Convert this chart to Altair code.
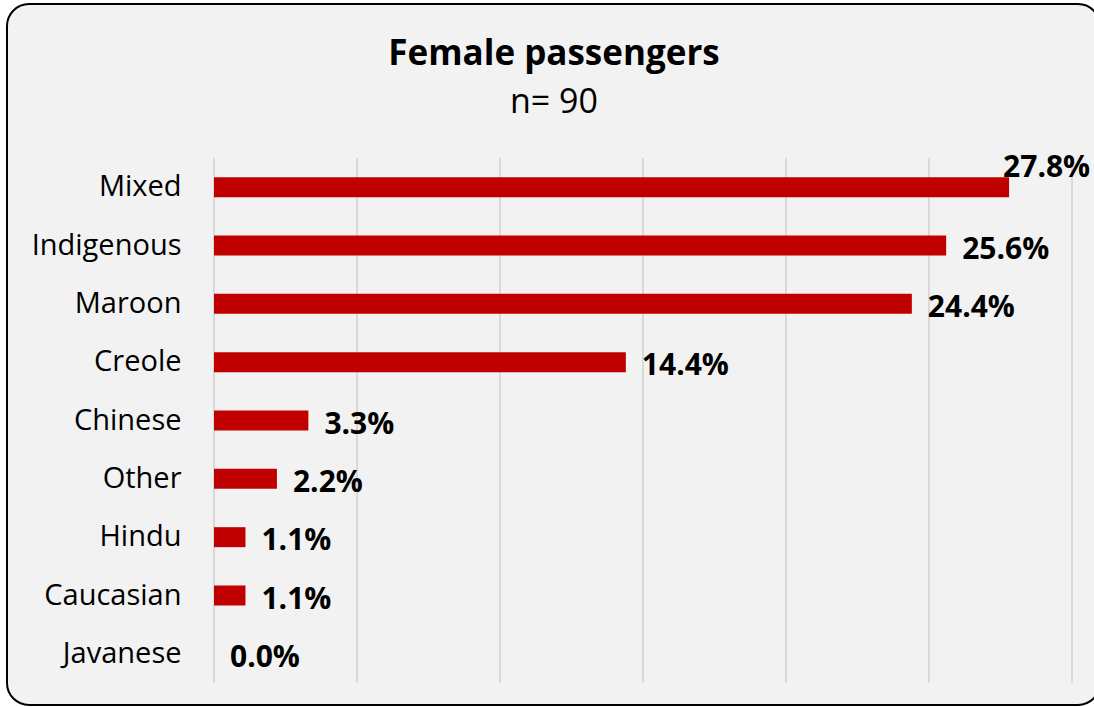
import altair as alt
import pandas as pd

categories = ["Mixed", "Indigenous", "Maroon", "Creole", "Chinese", "Other", "Hindu", "Caucasian", "Javanese"]
values = [27.8, 25.6, 24.4, 14.4, 3.3, 2.2, 1.1, 1.1, 0.0]
grid_ticks = [0, 5, 10, 15, 20, 25, 30]
title_text = "Female passengers"
subtitle_text = "n= 90"

df = pd.DataFrame({"category": categories, "value": values})
df["label"] = [f"{v:.1f}%" for v in values]
grid_df = pd.DataFrame({"tick": grid_ticks})

FONT = "Open Sans"
xscale = alt.Scale(domain=[0, 30], nice=False)
yscale = alt.Scale(domain=categories, paddingInner=0, paddingOuter=0)

frame = alt.Chart(alt.Data(values=[{}])).mark_rect(
    fill="#f2f2f2", stroke="#000000", strokeWidth=2, cornerRadius=22
).encode(
    x=alt.value(-207), x2=alt.value(886), y=alt.value(-154), y2=alt.value(547)
)

title = alt.Chart(alt.Data(values=[{"t": title_text}])).mark_text(
    align="center", baseline="alphabetic", font=FONT, fontSize=35, fontWeight="bold", color="#000000"
).encode(x=alt.value(340), y=alt.value(-93), text="t:N")

subtitle = alt.Chart(alt.Data(values=[{"t": subtitle_text}])).mark_text(
    align="center", baseline="alphabetic", font=FONT, fontSize=34, color="#000000"
).encode(x=alt.value(340), y=alt.value(-45), text="t:N")

grid = alt.Chart(grid_df).mark_rule(color="#d9d9d9", strokeWidth=2).encode(
    x=alt.X("tick:Q", scale=xscale, axis=None)
)

base = alt.Chart(df)

bars = base.mark_bar(color="#c00000", size=20).encode(
    x=alt.X("value:Q", scale=xscale, axis=None),
    y=alt.Y("category:N", scale=yscale, sort=categories, title=None,
            axis=alt.Axis(domain=False, ticks=False, labelFont=FONT, labelFontSize=29,
                          labelColor="#000000", labelPadding=33, labelLimit=300, zindex=1)),
)

labels = base.transform_filter("datum.category != 'Mixed'").mark_text(
    align="left", baseline="middle", dx=16, dy=4, font=FONT, fontSize=30,
    fontWeight="bold", color="#000000"
).encode(
    x=alt.X("value:Q", scale=xscale),
    y=alt.Y("category:N", scale=yscale, sort=categories),
    text="label:N",
)

top_label = base.transform_filter("datum.category == 'Mixed'").mark_text(
    align="left", baseline="alphabetic", dx=-6, dy=-10, font=FONT, fontSize=30,
    fontWeight="bold", color="#000000"
).encode(
    x=alt.X("value:Q", scale=xscale),
    y=alt.Y("category:N", scale=yscale, sort=categories),
    text="label:N",
)

chart = alt.layer(frame, grid, bars, labels, top_label, title, subtitle).properties(
    width=858, height=525,
    padding={"left": 214, "top": 158, "right": 22, "bottom": 24},
    autosize=alt.AutoSizeParams(type="none"),
    background="#ffffff",
).configure_view(stroke=None)

chart.save("out.html", embed_options={"renderer": "svg", "actions": False})
